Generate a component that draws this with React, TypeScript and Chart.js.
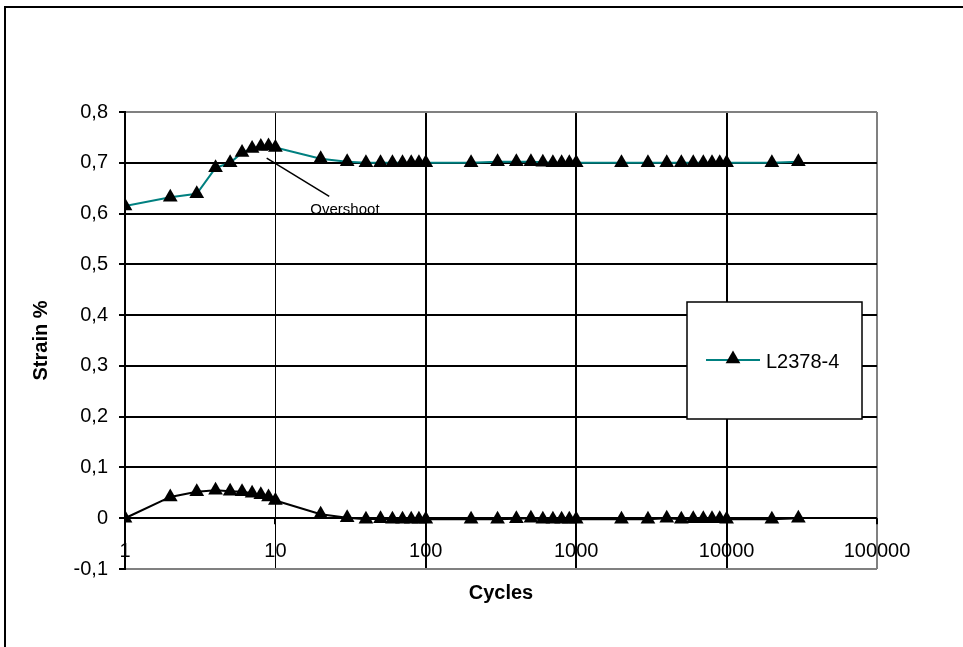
import React, { useEffect, useRef } from "react";
import { Chart, registerables } from "chart.js";

Chart.register(...registerables);

const CYCLES = [1, 2, 3, 4, 5, 6, 7, 8, 9, 10, 20, 30, 40, 50, 60, 70, 80, 90, 100, 200, 300, 400, 500, 600, 700, 800, 900, 1000, 2000, 3000, 4000, 5000, 6000, 7000, 8000, 9000, 10000, 20000, 30000];
const MAX_STRAIN = [0.615, 0.632, 0.639, 0.69, 0.7, 0.72, 0.728, 0.732, 0.733, 0.73, 0.708, 0.702, 0.7, 0.7, 0.7, 0.7, 0.7, 0.7, 0.7, 0.7, 0.702, 0.702, 0.702, 0.701, 0.7, 0.7, 0.7, 0.7, 0.7, 0.7, 0.7, 0.7, 0.7, 0.7, 0.7, 0.7, 0.7, 0.7, 0.702];
const MIN_STRAIN = [0, 0.042, 0.052, 0.055, 0.053, 0.052, 0.049, 0.046, 0.042, 0.035, 0.008, 0.001, -0.002, -0.001, -0.002, -0.002, -0.002, -0.002, -0.002, -0.002, -0.002, -0.001, 0.0, -0.002, -0.002, -0.002, -0.002, -0.002, -0.002, -0.002, 0.0, -0.002, -0.001, -0.001, -0.001, -0.001, -0.002, -0.002, 0.0];
const X_TICKS = [1, 10, 100, 1000, 10000, 100000];
const Y_TICKS = [-0.1, 0, 0.1, 0.2, 0.3, 0.4, 0.5, 0.6, 0.7, 0.8];
const SERIES_LABEL = "L2378-4";
const X_TITLE = "Cycles";
const Y_TITLE = "Strain %";
const NOTE_TEXT = "Overshoot";
const NOTE_FROM = { x: 8.75, y: 0.709 };
const NOTE_TO = { x: 22.8, y: 0.634 };
const NOTE_LABEL_AT = { x: 29, y: 0.608 };

const FONT = '"Liberation Sans", Arial, sans-serif';

const near = (a: number, b: number) => Math.abs(a - b) < 1e-9;

export default function App() {
  const ref = useRef<HTMLCanvasElement | null>(null);

  useEffect(() => {
    if (!ref.current) return;
    Chart.defaults.font.family = FONT;

    const extras = {
      id: "extras",
      afterDatasetsDraw(chart: any) {
        const { ctx } = chart;
        const xs = chart.scales.x;
        const ys = chart.scales.y;
        ctx.save();
        // x tick marks below the zero line
        const y0 = ys.getPixelForValue(0);
        ctx.strokeStyle = "#000";
        ctx.lineWidth = 2;
        X_TICKS.forEach((v) => {
          const px = Math.round(xs.getPixelForValue(v));
          ctx.beginPath();
          ctx.moveTo(px, y0);
          ctx.lineTo(px, y0 + 6);
          ctx.stroke();
        });
        // annotation
        ctx.lineWidth = 1.5;
        ctx.beginPath();
        ctx.moveTo(xs.getPixelForValue(NOTE_FROM.x), ys.getPixelForValue(NOTE_FROM.y));
        ctx.lineTo(xs.getPixelForValue(NOTE_TO.x), ys.getPixelForValue(NOTE_TO.y));
        ctx.stroke();
        ctx.fillStyle = "#000";
        ctx.font = "15px " + FONT;
        ctx.textAlign = "center";
        ctx.textBaseline = "middle";
        ctx.fillText(NOTE_TEXT, xs.getPixelForValue(NOTE_LABEL_AT.x), ys.getPixelForValue(NOTE_LABEL_AT.y));

        // legend box
        const ds = chart.data.datasets[0];
        const bx = 687, by = 302, bw = 175, bh = 117;
        ctx.fillStyle = "#fff";
        ctx.fillRect(bx, by, bw, bh);
        ctx.strokeStyle = "#000";
        ctx.lineWidth = 1.5;
        ctx.strokeRect(bx, by, bw, bh);
        const ly = by + 58;
        ctx.strokeStyle = ds.borderColor;
        ctx.lineWidth = 2;
        ctx.beginPath();
        ctx.moveTo(bx + 19, ly);
        ctx.lineTo(bx + 73, ly);
        ctx.stroke();
        ctx.fillStyle = "#000";
        ctx.beginPath();
        const r = 8.5;
        const cx = bx + 46;
        const cy = ly - 1;
        ctx.moveTo(cx, cy - r);
        ctx.lineTo(cx + r * 0.866, cy + r * 0.5);
        ctx.lineTo(cx - r * 0.866, cy + r * 0.5);
        ctx.closePath();
        ctx.fill();
        ctx.font = "20px " + FONT;
        ctx.textAlign = "left";
        ctx.textBaseline = "middle";
        ctx.fillText(ds.label, bx + 79, ly + 2);
        ctx.restore();
      },
    };

    const chart = new Chart(ref.current, {
      type: "line",
      data: {
        datasets: [
          {
            label: SERIES_LABEL,
            data: CYCLES.map((c, i) => ({ x: c, y: MAX_STRAIN[i] })),
            borderColor: "#008080",
            borderWidth: 2,
            pointStyle: "triangle",
            pointRadius: 8.5,
            pointBackgroundColor: "#000",
            pointBorderColor: "#000",
            pointBorderWidth: 0,
            tension: 0,
          },
          {
            label: "min",
            data: CYCLES.map((c, i) => ({ x: c, y: MIN_STRAIN[i] })),
            borderColor: "#000",
            borderWidth: 2,
            pointStyle: "triangle",
            pointRadius: 8.5,
            pointBackgroundColor: "#000",
            pointBorderColor: "#000",
            pointBorderWidth: 0,
            tension: 0,
          },
        ],
      },
      options: {
        responsive: false,
        animation: false,
        layout: { padding: { left: 0, right: 86, top: 112, bottom: 0 } },
        plugins: {
          legend: { display: false },
          tooltip: { enabled: false },
        },
        scales: {
          x: {
            type: "logarithmic",
            min: 1,
            max: 100000,
            position: "bottom",
            afterBuildTicks: (s: any) => {
              s.ticks = X_TICKS.map((v) => ({ value: v }));
            },
            afterFit: (s: any) => {
              s.height = 78;
            },
            ticks: {
              autoSkip: false,
              maxRotation: 0,
              mirror: true,
              padding: 6,
              color: "#000",
              font: { size: 20, family: FONT, lineHeight: 1.2 },
              callback: (v: any) => String(v),
            },
            grid: {
              drawTicks: false,
              color: (c: any) => {
                const v = c.tick ? c.tick.value : 0;
                if (v === 100000) return "#808080";
                return "#000";
              },
              lineWidth: (c: any) => {
                const v = c.tick ? c.tick.value : 0;
                if (v === 10) return 1;
                return 2;
              },
            },
            border: { display: false },
            title: {
              display: true,
              text: X_TITLE,
              color: "#000",
              font: { size: 20, weight: "bold", family: FONT, lineHeight: 1.2 },
              padding: { top: 0, bottom: 42 },
            },
          },
          y: {
            min: -0.1,
            max: 0.8,
            afterBuildTicks: (s: any) => {
              s.ticks = Y_TICKS.map((v) => ({ value: v }));
            },
            afterFit: (s: any) => {
              s.width = 125;
            },
            ticks: {
              padding: 11,
              color: "#000",
              font: { size: 20, family: FONT },
              callback: (v: any) => (near(v, 0) ? "0" : Number(v).toFixed(1).replace(".", ",")),
            },
            grid: {
              tickLength: 6,
              tickColor: "#000",
              tickWidth: 2,
              color: (c: any) => {
                const v = c.tick ? c.tick.value : 0;
                if (near(v, 0.8) || near(v, -0.1)) return "#808080";
                return "#000";
              },
              lineWidth: 2,
            },
            border: { display: true, color: "#000", width: 2 },
            title: {
              display: true,
              text: Y_TITLE,
              color: "#000",
              font: { size: 20, weight: "bold", family: FONT, lineHeight: 1.2 },
              padding: { top: 29, bottom: 0 },
            },
          },
        },
      },
      plugins: [extras],
    } as any);

    return () => chart.destroy();
  }, []);

  return (
    <div style={{ position: "absolute", left: 0, top: 0, width: 963, height: 647, overflow: "hidden", background: "#fff" }}>
      <div
        style={{
          position: "absolute",
          left: 4,
          top: 6,
          width: 2000,
          height: 2000,
          border: "2px solid #000",
        }}
      />
      <canvas ref={ref} width={963} height={647} style={{ position: "absolute", left: 0, top: 0, display: "block" }} />
    </div>
  );
}
